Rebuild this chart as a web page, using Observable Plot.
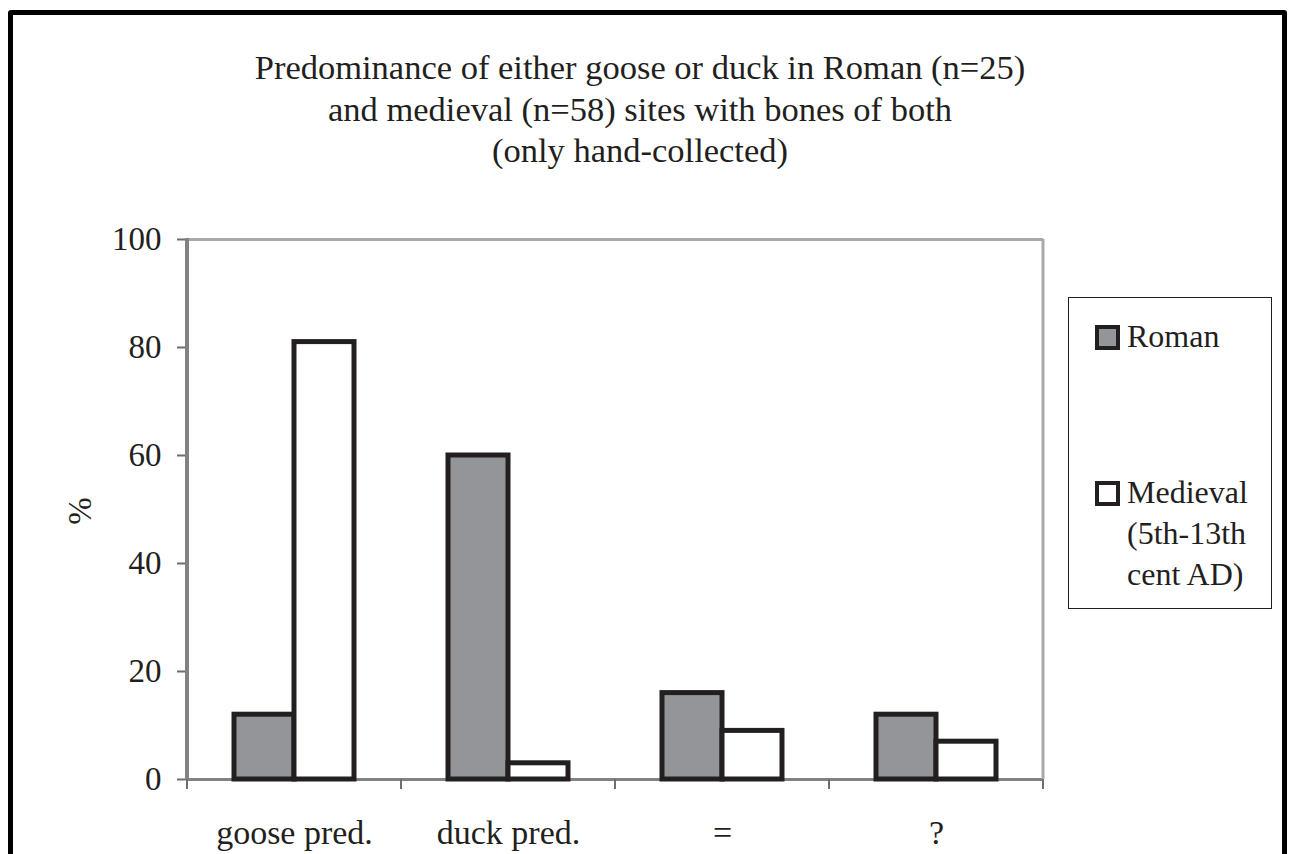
<!DOCTYPE html>
<html><head><meta charset="utf-8">
<script src="https://cdn.jsdelivr.net/npm/d3@7"></script>
<script src="https://cdn.jsdelivr.net/npm/@observablehq/plot@0.6"></script>
<style>
html,body{margin:0;padding:0;background:#fff;width:1290px;height:854px;overflow:hidden;}
body{position:relative;font-family:"Liberation Serif","Times New Roman",serif;color:#231f20;}
#border{position:absolute;left:8px;top:10px;width:1269px;height:900px;border:5px solid #000;border-radius:3px;}
#title{position:absolute;left:0;width:1280px;top:47px;text-align:center;font-size:34.5px;line-height:41.5px;}
#chart{position:absolute;left:0;top:0;}
#ylabel{position:absolute;left:80px;top:511px;transform:translate(-50%,-50%) rotate(-90deg);font-size:33px;}
#legend{position:absolute;left:1068px;top:297px;width:202px;height:310px;border:1.5px solid #231f20;}
.item{position:absolute;left:26px;}
.sw{position:absolute;left:0;top:3px;width:17px;height:17px;border:4px solid #231f20;}
.lab{position:absolute;left:32px;top:0;font-size:32px;line-height:41px;white-space:nowrap;margin-top:-6px;}
</style></head>
<body>
<div id="border"></div>
<div id="chart"></div>
<div id="title"></div>
<div id="ylabel"></div>
<div id="legend"></div>
<script>
const categories = ["goose pred.", "duck pred.", "=", "?"];
const series = ["Roman", "Medieval"];
const romanValues = [12, 60, 16, 12];
const medievalValues = [81, 3, 9, 7];
const yTicks = [0, 20, 40, 60, 80, 100];
const titleLines = ["Predominance of either goose or duck in Roman (n=25)", "and medieval (n=58) sites with bones of both", "(only hand-collected)"];
const yLabel = "%";
const legendLabels = [["Roman"], ["Medieval", "(5th-13th", "cent AD)"]];
const seriesColors = ["#939598", "#ffffff"];

const rows = categories.flatMap((c, i) => [
  {category: c, series: series[0], value: romanValues[i]},
  {category: c, series: series[1], value: medievalValues[i]}
]);

const chart = Plot.plot({
  width: 1060, height: 854,
  marginLeft: 187, marginRight: 17, marginTop: 239, marginBottom: 75,
  style: {background: "transparent", fontFamily: "Liberation Serif", fontSize: "33px", color: "#231f20"},
  fx: {domain: categories, padding: 0},
  x: {domain: series, paddingInner: 0, paddingOuter: 0.78, axis: null},
  y: {domain: [0, 100]},
  color: {domain: series, range: seriesColors},
  marks: [
    Plot.ruleY([100], {stroke: "#a7a9ac", strokeWidth: 3}),
    Plot.ruleY([0], {stroke: "#808285", strokeWidth: 3}),
    Plot.barY(rows, {fx: "category", x: "series", y: "value", fill: "series", stroke: "#231f20", strokeWidth: 5}),
    Plot.axisY({ticks: yTicks, tickSize: 10, tickPadding: 16, stroke: "#6d6e71", strokeWidth: 2, fill: "#231f20", label: null}),
    Plot.axisFx({anchor: "bottom", tickSize: 0, tickPadding: 40, label: null, fill: "#231f20", fontSize: 34})
  ]
});
document.getElementById("chart").appendChild(chart);

// frame sides and category boundary ticks from the plot's own scales
const fx = chart.scale("fx"), y = chart.scale("y");
const x0 = fx.apply(categories[0]);
const xEnd = fx.apply(categories[categories.length - 1]) + fx.bandwidth;
const yTop = y.apply(100), yBot = y.apply(0);
const g = d3.select(chart).append("g");
g.append("line").attr("x1", xEnd).attr("x2", xEnd).attr("y1", yTop).attr("y2", yBot).attr("stroke", "#a7a9ac").attr("stroke-width", 3);
g.append("line").attr("x1", x0).attr("x2", x0).attr("y1", yTop - 1).attr("y2", yBot + 1).attr("stroke", "#808285").attr("stroke-width", 4);
const bounds = categories.map(c => fx.apply(c)).concat([xEnd]);
g.selectAll("line.tk").data(bounds).join("line").attr("class", "tk")
  .attr("x1", d => d).attr("x2", d => d).attr("y1", yBot).attr("y2", yBot + 10)
  .attr("stroke", "#6d6e71").attr("stroke-width", 2);

document.getElementById("title").innerHTML = titleLines.join("<br>");
document.getElementById("ylabel").textContent = yLabel;
const legend = document.getElementById("legend");
const itemTops = [24, 180];
series.forEach((s, i) => {
  const it = document.createElement("div");
  it.className = "item";
  it.style.top = itemTops[i] + "px";
  const sw = document.createElement("div");
  sw.className = "sw";
  sw.style.background = seriesColors[i];
  const lab = document.createElement("div");
  lab.className = "lab";
  lab.innerHTML = legendLabels[i].join("<br>");
  it.appendChild(sw); it.appendChild(lab);
  legend.appendChild(it);
});
</script>
</body></html>
